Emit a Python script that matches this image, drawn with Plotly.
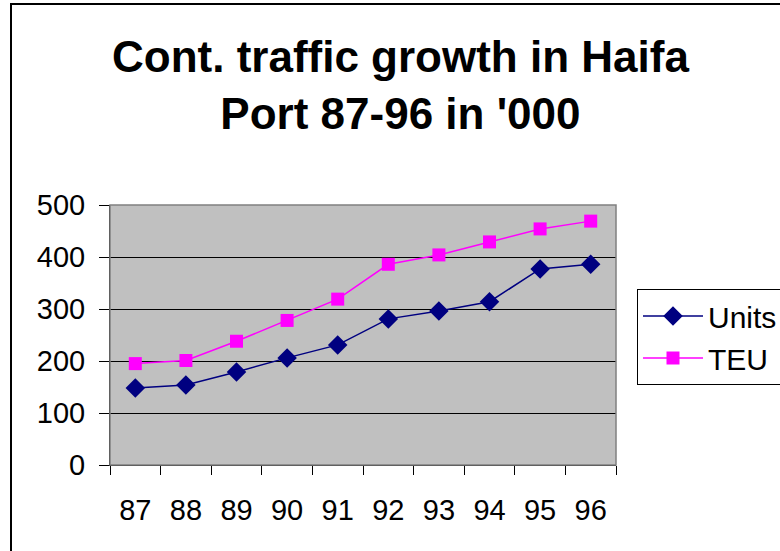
import plotly.graph_objects as go

years = ["87", "88", "89", "90", "91", "92", "93", "94", "95", "96"]
units = [148, 154, 179, 206, 231, 281, 296, 314, 377, 386]
teu = [195, 201, 238, 278, 319, 386, 404, 429, 454, 469]

W, H = 780, 551
L, R, T, B = 110, 616, 205, 465


def px_x(p):
    return (p - L) / (R - L)


def px_y(p):
    return (B - p) / (B - T)


fig = go.Figure()
fig.add_trace(go.Scatter(
    x=years, y=units, name="Units", mode="lines+markers",
    line=dict(color="#000080", width=1.5),
    marker=dict(symbol="diamond", size=15, color="#000080"),
))
fig.add_trace(go.Scatter(
    x=years, y=teu, name="TEU", mode="lines+markers",
    line=dict(color="#FF00FF", width=1.5),
    marker=dict(symbol="square", size=13, color="#FF00FF"),
))

font_family = "Liberation Sans, Arial, sans-serif"

fig.update_layout(
    width=W, height=H,
    margin=dict(l=L, r=W - R, t=T, b=H - B, pad=0, autoexpand=False),
    paper_bgcolor="white",
    plot_bgcolor="#C0C0C0",
    font=dict(family=font_family, size=29, color="black"),
    showlegend=True,
    legend=dict(
        x=px_x(637), y=px_y(289), xanchor="left", yanchor="top",
        bgcolor="white", bordercolor="black", borderwidth=1,
        font=dict(size=30, family=font_family, color="black"),
        itemwidth=60,
    ),
    xaxis=dict(
        type="category", range=[-0.5, len(years) - 0.5],
        tickson="boundaries", ticks="outside", ticklen=9,
        tickcolor="black", showline=True, linecolor="black", linewidth=1,
        showgrid=False, ticklabelstandoff=19,
        tickfont=dict(size=29, family=font_family),
    ),
    yaxis=dict(
        range=[0, 500], dtick=100, ticks="outside", ticklen=10,
        tickcolor="black", showline=True, linecolor="black", linewidth=1,
        showgrid=True, gridcolor="black", gridwidth=1, zeroline=False,
        ticklabelstandoff=8,
        tickfont=dict(size=29, family=font_family),
    ),
    annotations=[
        dict(
            text="<b>Cont. traffic growth in Haifa<br>Port 87-96 in '000</b>",
            xref="paper", yref="paper",
            x=px_x(400), y=px_y(85), xanchor="center", yanchor="middle",
            showarrow=False, align="center",
            font=dict(size=44, family=font_family, color="black"),
        )
    ],
    shapes=[
        dict(type="rect", xref="paper", yref="paper",
             x0=0, x1=1, y0=0, y1=1,
             line=dict(color="#808080", width=1.5), layer="above"),
        dict(type="rect", xref="paper", yref="paper",
             x0=px_x(11), x1=px_x(900), y0=px_y(4), y1=px_y(700),
             line=dict(color="black", width=2)),
    ],
)

fig.write_html(
    "out.html",
    config={"displayModeBar": False},
    post_script="document.body.style.margin='0';document.body.style.overflow='hidden';",
)
